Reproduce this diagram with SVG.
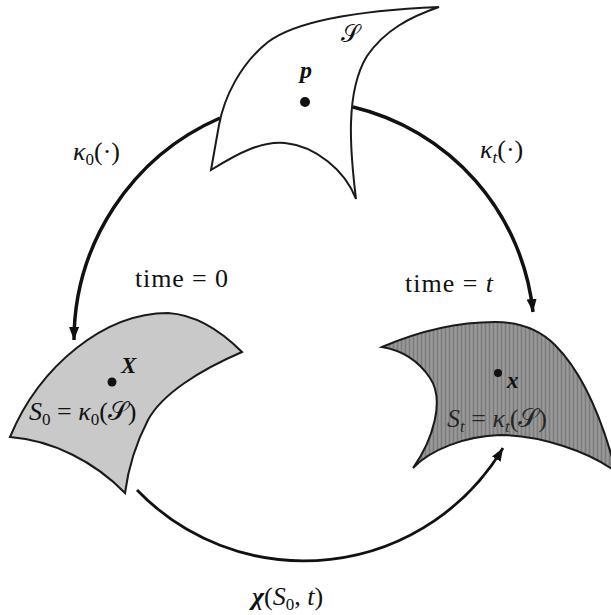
<svg xmlns="http://www.w3.org/2000/svg" width="611" height="615" viewBox="0 0 611 615">
<style>
.t{font-family:"Liberation Serif","DejaVu Serif",serif;fill:#111}
.sc{font-family:"DejaVu Serif","DejaVu Sans",serif;font-style:normal}
.it{font-style:italic}
.bi{font-style:italic;font-weight:bold}
.con{fill:none;stroke:#111}
.shape{stroke:#1a1a1a;stroke-width:2;stroke-linejoin:miter}
</style>
<defs>
<marker id="ah" markerUnits="userSpaceOnUse" markerWidth="14" markerHeight="10" refX="13" refY="5" orient="auto">
<path d="M0,0 L13,5 L0,10 Z" fill="#111"/>
</marker>
<pattern id="stripes" patternUnits="userSpaceOnUse" width="4" height="10">
<rect width="4" height="10" fill="#8f8f8f"/>
<rect x="1" width="1" height="10" fill="#7c7c7c"/>
<rect x="3" width="1" height="10" fill="#9a9a9a"/>
</pattern>
</defs>
<rect width="611" height="615" fill="#fff"/>

<g id="connectors">
<path class="con" stroke-width="3.5" d="M220,118 A243 243 0 0 0 74,340" marker-end="url(#ah)"/>
<path class="con" stroke-width="3.5" d="M353,107 A236 236 0 0 1 533,312" marker-end="url(#ah)"/>
<path class="con" stroke-width="2.8" d="M137,490 A232 232 0 0 0 503,448" marker-end="url(#ah)"/>
</g>

<g id="body">
<path class="shape" stroke-width="1.8" fill="#fff" d="M439,7 C370,10 300,18 268,42 C240,64 224,98 219,125 L211,170 C240,152 262,141 285,143 C315,146 345,170 356,199 C350,150 345,92 367,56 C385,30 410,17 439,7 Z"/>
<text class="t sc" x="341" y="42" font-size="24">𝒮</text>
<text class="t bi" x="300" y="78" font-size="24">p</text>
<circle cx="305" cy="102" r="5" fill="#111"/>
</g>

<g id="reference-config">
<path class="shape" fill="#c9c9c9" d="M10,437 C40,365 105,313 168,313 C200,315 225,335 242,352 C200,370 162,394 148,420 C135,445 128,470 125,493 C95,462 52,440 10,437 Z"/>
<circle cx="112" cy="382" r="4.5" fill="#111"/>
<text class="t bi" x="121" y="373" font-size="23">X</text>
<text class="t" x="29" y="420" font-size="26"><tspan class="it">S</tspan><tspan font-size="17" dy="5">0</tspan><tspan dy="-5"> = </tspan><tspan class="it">κ</tspan><tspan font-size="17" dy="5">0</tspan><tspan dy="-5">(</tspan><tspan class="sc">𝒮</tspan><tspan>)</tspan></text>
</g>

<g id="current-config">
<path class="shape" fill="url(#stripes)" d="M382,347 C410,335 450,322 495,322 C520,322 540,330 555,345 C580,370 600,410 616,472 C590,452 540,435 500,435 C465,436 430,450 413,468 C433,440 445,400 430,378 C418,360 400,350 382,347 Z"/>
<circle cx="498" cy="373" r="4" fill="#111"/>
<text class="t bi" x="507" y="388" font-size="23">x</text>
<text class="t" x="447" y="427" font-size="26" fill-opacity="0.85"><tspan class="it">S</tspan><tspan font-size="17" dy="5" class="it">t</tspan><tspan dy="-5"> = </tspan><tspan class="it">κ</tspan><tspan font-size="17" dy="5" class="it">t</tspan><tspan dy="-5">(</tspan><tspan class="sc">𝒮</tspan><tspan>)</tspan></text>
</g>

<g id="labels">
<text class="t" x="73" y="160" font-size="26"><tspan class="it">κ</tspan><tspan font-size="17" dy="5">0</tspan><tspan dy="-5">(·)</tspan></text>
<text class="t" x="480" y="158" font-size="26"><tspan class="it">κ</tspan><tspan font-size="17" dy="5" class="it">t</tspan><tspan dy="-5">(·)</tspan></text>
<text class="t" x="135" y="287" font-size="26" textLength="93" lengthAdjust="spacing">time = 0</text>
<text class="t" x="405" y="292" font-size="26" textLength="88" lengthAdjust="spacing">time = <tspan class="it">t</tspan></text>
<text class="t" x="252" y="605" font-size="26"><tspan class="bi">χ</tspan><tspan>(</tspan><tspan class="it">S</tspan><tspan font-size="17" dy="5">0</tspan><tspan dy="-5">, </tspan><tspan class="it">t</tspan><tspan>)</tspan></text>
</g>
</svg>
